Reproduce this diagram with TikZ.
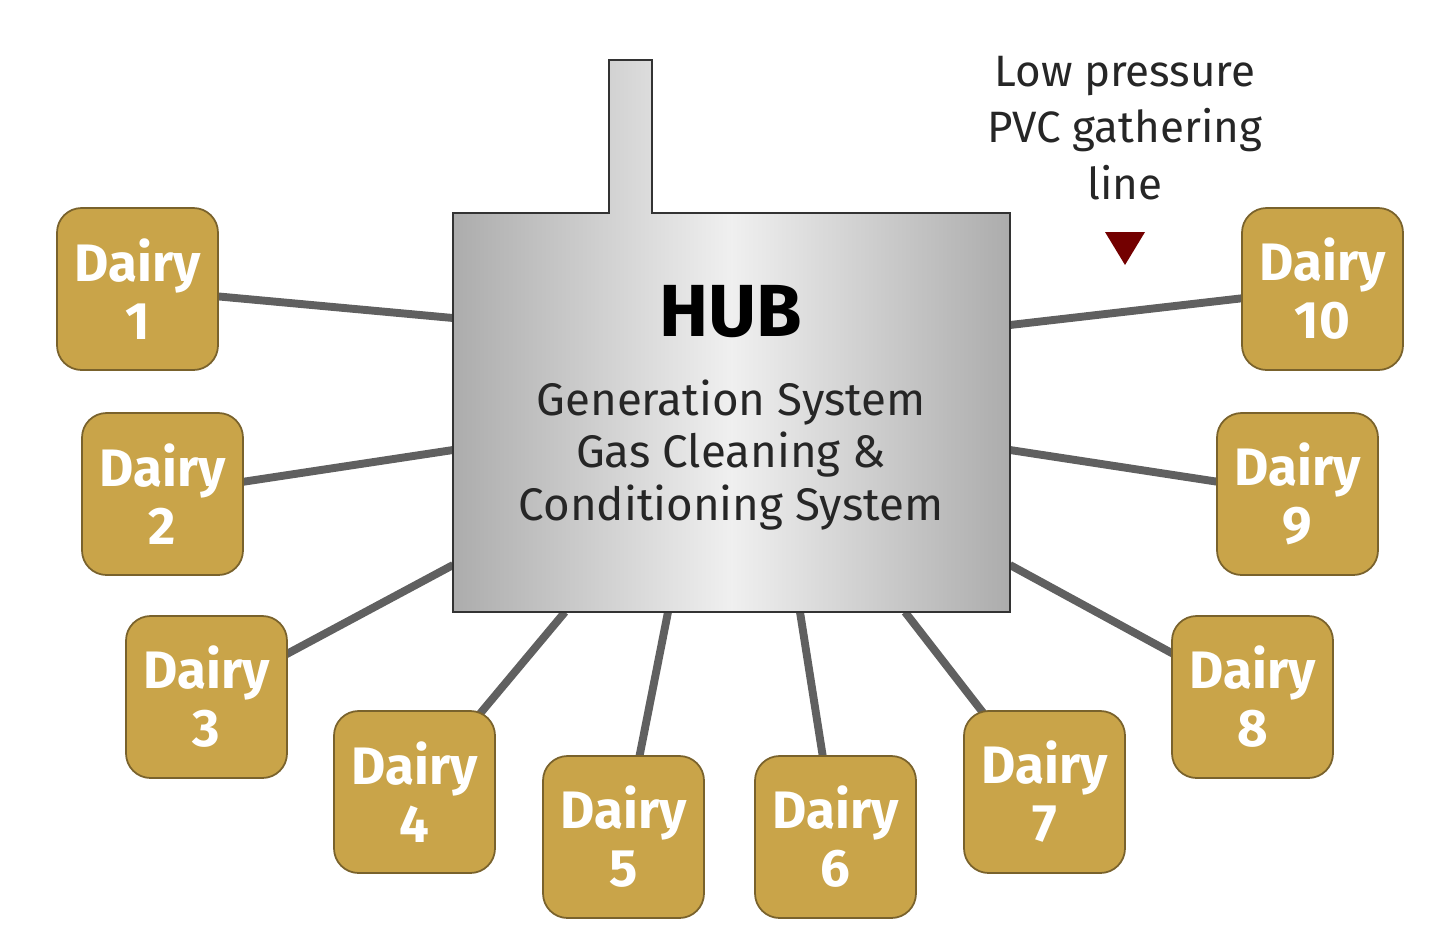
\documentclass[tikz,border=0pt]{standalone}
\usepackage{fontspec}
\setmainfont{Fira Sans}
\usetikzlibrary{backgrounds}
\definecolor{gold}{HTML}{C9A449}
\tikzset{
  dairy/.style={draw=black!40!gold, line width=1pt, fill=gold, rounded corners=14pt, minimum width=161*0.02cm, minimum height=162*0.02cm, text=white, font=\fontsize{30}{33}\selectfont\bfseries, align=center, inner sep=0pt},
  pipe/.style={line width=4.5pt, draw=gray!75!black},
  hubtxt/.style={font=\fontsize{26}{30}\selectfont, text=black!85, align=center},
}
\begin{document}
\begin{tikzpicture}[x=0.02cm,y=-0.02cm]
\useasboundingbox (0,0) rectangle (1440,947);
\coordinate (h1) at (453,318); \coordinate (h2) at (453,450); \coordinate (h3) at (453,565);
\coordinate (h4) at (565,612); \coordinate (h5) at (668,612); \coordinate (h6) at (800,612);
\coordinate (h7) at (905,612); \coordinate (h8) at (1010,565); \coordinate (h9) at (1010,450);
\coordinate (h10) at (1010,325);
\node[dairy] (d1) at (137.5,289) {Dairy\\1};
\node[dairy] (d2) at (162.5,494) {Dairy\\2};
\node[dairy] (d3) at (206.5,697) {Dairy\\3};
\node[dairy] (d4) at (414.5,792) {Dairy\\4};
\node[dairy] (d5) at (623.5,837) {Dairy\\5};
\node[dairy] (d6) at (835.5,837) {Dairy\\6};
\node[dairy] (d7) at (1044.5,792) {Dairy\\7};
\node[dairy] (d8) at (1252.5,697) {Dairy\\8};
\node[dairy] (d9) at (1297.5,494) {Dairy\\9};
\node[dairy] (d10) at (1322.5,289) {Dairy\\10};
\begin{pgfonlayer}{background}
\foreach \i in {1,...,10}{ \draw[pipe] (h\i) -- (d\i.center); }
\end{pgfonlayer}
\path[draw=black!80, line width=1pt, left color=gray!65, right color=gray!65, middle color=gray!12]
  (453,213) -- (609,213) -- (609,60) -- (652,60) -- (652,213) -- (1010,213) -- (1010,612) -- (453,612) -- cycle;
\node[font=\fontsize{42}{46}\selectfont\bfseries] (hubt) at (731,312) {HUB};
\node[hubtxt] (hubs) at (731,455) {Generation System\\Gas Cleaning \&\\Conditioning System};
\node[font=\fontsize{25}{32}\selectfont, align=center, text=black!85] (lbl) at (1125,128) {Low pressure\\PVC gathering\\line};
\fill[fill=red!45!black] (1105,232) -- (1145,232) -- (1125,265) -- cycle;
\end{tikzpicture}
\end{document}
